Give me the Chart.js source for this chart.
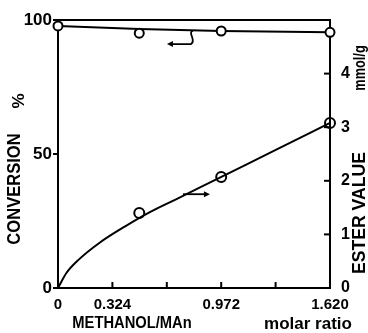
<!DOCTYPE html>
<html>
<head>
<meta charset="utf-8">
<script src="https://cdn.jsdelivr.net/npm/chart.js@4"></script>
<style>
  html, body { margin: 0; padding: 0; background: #fff; }
  #wrap { width: 368px; height: 333px; }
</style>
</head>
<body>
<div id="wrap"><canvas id="chart"></canvas></div>
<script>
// molar ratio axis
const ratioLabels = [0, 0.324, 0.972, 1.62];
const ratioTicks = [0.324, 0.648, 0.972, 1.296];
const esterTicks = [1, 2, 3, 4];

// conversion (%), left axis
const convX = [0, 0.484, 0.972, 1.62];
const convPct = [97.8, 95.1, 95.9, 95.4];
const convLineX = [0, 0.484, 0.972, 1.62];
const convLineY = [97.8, 96.6, 95.9, 95.4];

// ester value (mmol/g), right axis
const esterX = [0.484, 0.972, 1.62];
const esterVal = [1.4, 2.07, 3.08];
const esterCurveX = [0, 0.05, 0.12, 0.25, 0.4, 0.55, 0.7, 0.97, 1.3, 1.62];
const esterCurveY = [0, 0.28, 0.52, 0.85, 1.15, 1.42, 1.65, 2.07, 2.58, 3.08];

const FONT = '"Liberation Sans", Arial, sans-serif';
const pts = (xs, ys) => xs.map((v, i) => ({ x: v, y: ys[i] }));

const extras = {
  id: 'extras',
  afterDraw(chart) {
    const ctx = chart.ctx;
    const { x, y, y2 } = chart.scales;
    const area = chart.chartArea;
    ctx.save();
    ctx.strokeStyle = '#000';
    ctx.fillStyle = '#000';
    ctx.lineWidth = 2;

    // inward ticks, bottom and right
    ratioTicks.forEach(v => {
      const px = x.getPixelForValue(v);
      ctx.beginPath();
      ctx.moveTo(px, area.bottom);
      ctx.lineTo(px, area.bottom - 6);
      ctx.stroke();
    });
    esterTicks.forEach(v => {
      const py = y2.getPixelForValue(v);
      ctx.beginPath();
      ctx.moveTo(area.right, py);
      ctx.lineTo(area.right - 6, py);
      ctx.stroke();
    });

    // arrow to left axis
    const sx = x.getPixelForValue(0.804);
    const sy = y.getPixelForValue(96.0);
    const ay = y.getPixelForValue(91.0);
    const ax = x.getPixelForValue(0.649);
    ctx.lineWidth = 1.8;
    ctx.beginPath();
    ctx.moveTo(sx, sy);
    ctx.bezierCurveTo(sx - 6, sy + 2, sx + 4, ay - 4, sx - 2, ay);
    ctx.lineTo(ax + 4, ay);
    ctx.stroke();
    ctx.beginPath();
    ctx.moveTo(ax, ay);
    ctx.lineTo(ax + 6, ay - 3);
    ctx.lineTo(ax + 6, ay + 3);
    ctx.closePath();
    ctx.fill();

    // arrow to right axis
    const bx0 = x.getPixelForValue(0.744);
    const bx1 = x.getPixelForValue(0.905);
    const by = y2.getPixelForValue(1.75);
    ctx.beginPath();
    ctx.moveTo(bx0, by);
    ctx.lineTo(bx1 - 4, by);
    ctx.stroke();
    ctx.beginPath();
    ctx.moveTo(bx1, by);
    ctx.lineTo(bx1 - 6, by - 3);
    ctx.lineTo(bx1 - 6, by + 3);
    ctx.closePath();
    ctx.fill();

    // axis titles
    ctx.textAlign = 'center';
    ctx.textBaseline = 'middle';
    const vtext = (t, cx, cy, size, squeeze) => {
      ctx.save();
      ctx.font = 'bold ' + size + 'px ' + FONT;
      ctx.translate(cx, cy);
      ctx.rotate(-Math.PI / 2);
      ctx.scale(squeeze, 1);
      ctx.fillText(t, 0, 0);
      ctx.restore();
    };
    vtext('CONVERSION', 15, 189, 18, 0.92);
    vtext('%', 19, 101, 17, 1);
    vtext('ESTER VALUE', 360, 213, 18, 0.98);
    vtext('mmol/g', 360, 68, 17, 0.75);
    ctx.font = 'bold 16px ' + FONT;
    ctx.save();
    ctx.translate(132, 324);
    ctx.scale(0.92, 1);
    ctx.fillText('METHANOL/MAn', 0, 0);
    ctx.restore();
    ctx.font = 'bold 17px ' + FONT;
    ctx.fillText('molar ratio', 308, 324);
    ctx.restore();
  }
};

new Chart(document.getElementById('chart'), {
  type: 'scatter',
  data: {
    datasets: [
      {
        data: pts(convX, convPct),
        yAxisID: 'y',
        showLine: false,
        pointRadius: 4.5,
        pointBorderWidth: 2,
        pointBackgroundColor: '#fff',
        pointBorderColor: '#000',
        clip: false
      },
      {
        data: pts(esterX, esterVal),
        yAxisID: 'y2',
        showLine: false,
        pointRadius: 5,
        pointBorderWidth: 2,
        pointBackgroundColor: 'rgba(0,0,0,0)',
        pointBorderColor: '#000',
        clip: false
      },
      {
        data: pts(convLineX, convLineY),
        yAxisID: 'y',
        showLine: true,
        borderColor: '#000',
        borderWidth: 2,
        pointRadius: 0,
        tension: 0
      },
      {
        data: pts(esterCurveX, esterCurveY),
        yAxisID: 'y2',
        showLine: true,
        borderColor: '#000',
        borderWidth: 2,
        pointRadius: 0,
        cubicInterpolationMode: 'monotone'
      }
    ]
  },
  options: {
    responsive: true,
    maintainAspectRatio: false,
    animation: false,
    layout: { padding: 0 },
    plugins: {
      legend: { display: false },
      tooltip: { enabled: false }
    },
    scales: {
      x: {
        type: 'linear',
        position: 'bottom',
        min: 0,
        max: 1.62,
        afterBuildTicks: s => { s.ticks = ratioLabels.map(v => ({ value: v })); },
        afterFit: s => { s.height = 45; },
        grid: { display: false },
        border: { color: '#000', width: 2 },
        ticks: {
          padding: 0,
          color: '#000',
          font: { family: FONT, size: 15, weight: 'bold' },
          maxRotation: 0,
          callback: v => v === 0 ? '0' : v.toFixed(3)
        }
      },
      xTop: {
        type: 'linear',
        position: 'top',
        min: 0,
        max: 1.62,
        afterFit: s => { s.height = 20; },
        grid: { display: false },
        border: { color: '#000', width: 2 },
        ticks: { display: false }
      },
      y: {
        position: 'left',
        min: 0,
        max: 100,
        afterFit: s => { s.width = 58; },
        grid: { drawOnChartArea: false, tickLength: 5, color: '#000', lineWidth: 2 },
        border: { color: '#000', width: 2 },
        ticks: {
          stepSize: 50,
          padding: 1,
          color: '#000',
          font: { family: FONT, size: 17, weight: 'bold' }
        }
      },
      y2: {
        position: 'right',
        min: 0,
        max: 5,
        afterFit: s => { s.width = 38; },
        grid: { display: false },
        border: { color: '#000', width: 2 },
        ticks: {
          stepSize: 1,
          padding: 3,
          color: '#000',
          font: { family: FONT, size: 16, weight: 'bold' },
          callback: v => v === 5 ? '' : String(v)
        }
      }
    }
  },
  plugins: [extras]
});
</script>
</body>
</html>
